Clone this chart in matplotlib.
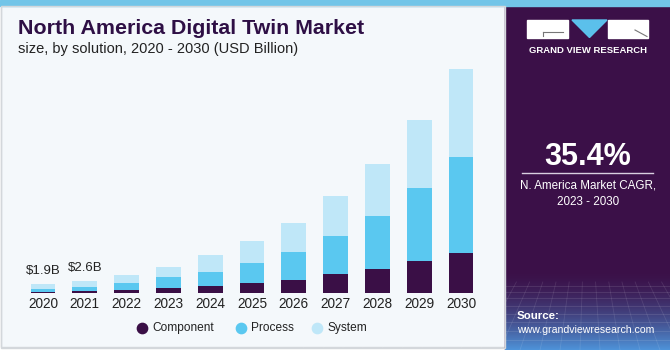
import numpy as np
import matplotlib.pyplot as plt
from matplotlib.patches import Rectangle, Polygon

# Data (USD Billion)
years = ['2020', '2021', '2022', '2023', '2024', '2025', '2026', '2027', '2028', '2029', '2030']
component = [0.35, 0.4, 0.65, 1.1, 1.55, 2.3, 2.9, 4.1, 5.2, 7.0, 8.7]
process = [0.65, 1.05, 1.6, 2.3, 3.1, 4.3, 6.0, 8.3, 11.5, 15.5, 20.6]
system = [0.9, 1.15, 1.65, 2.35, 3.5, 4.6, 6.25, 8.4, 11.1, 14.8, 18.8]
bar_labels = ['$1.9B', '$2.6B']
series_names = ['Component', 'Process', 'System']
colors = ['#3A0F46', '#5AC8F0', '#BFE7F8']

plt.rcParams['font.family'] = ['Liberation Sans', 'DejaVu Sans']

fig = plt.figure(figsize=(6.7, 3.5), dpi=100)

# background / decoration axes in pixel coordinates
bg = fig.add_axes([0, 0, 1, 1])
bg.set_xlim(0, 670)
bg.set_ylim(350, 0)
bg.axis('off')
bg.add_patch(Rectangle((0, 0), 670, 350, color='white'))
bg.add_patch(Rectangle((1, 5), 504, 342, facecolor='#F4F8FB', edgecolor='#D3D7DB', lw=1))
bg.add_patch(Rectangle((505, 5), 165, 345, color='#3B1048'))

# bottom glow of right panel
h = 80
t = np.linspace(0, 1, h) ** 1.6
c1 = np.array([0x3B, 0x10, 0x48]) / 255
c2 = np.array([0x4E, 0x92, 0xD8]) / 255
grad = (c1[None, :] * (1 - t[:, None]) + c2[None, :] * t[:, None])
grad = np.repeat(grad[:, None, :], 10, axis=1)
bg.imshow(grad, extent=(505, 670, 350, 270), aspect='auto', zorder=1)
for k in range(1, 10):
    yy = 282 + 68 * (k / 9) ** 1.3
    bg.plot([505, 670], [yy, yy], color='white', alpha=0.12, lw=0.6, zorder=2)
# perspective lines, only the lower part
vx, vy = 587, 150
for xb in np.linspace(300, 880, 30):
    y0, y1 = 282, 350
    xa = vx + (xb - vx) * (y0 - vy) / (y1 - vy)
    bg.plot([xa, xb], [y0, y1], color='white', alpha=0.10, lw=0.6, zorder=2)
bg.add_patch(Rectangle((0, 0), 670, 5.5, color='#72C5E8', zorder=3))
bg.add_patch(Rectangle((0.5, 5.5), 504, 342, facecolor='none', edgecolor='#D3D7DB', lw=1, zorder=3))

# logo
bg.add_patch(Rectangle((527, 20), 41, 17.5, color='white', zorder=3))
bg.add_patch(Rectangle((608, 20), 40, 17.5, color='white', zorder=3))
bg.add_patch(Polygon([(572, 20), (607, 20), (589.5, 37.5)], color='#5BC0EB', zorder=3))
bg.plot([543, 563], [31.5, 31.5], color='#777777', lw=0.8, zorder=4)
bg.plot([543, 543], [31.5, 36], color='#777777', lw=0.8, zorder=4)
bg.plot([635, 647], [30, 36.5], color='#777777', lw=0.8, zorder=4)
bg.text(588, 50.5, 'GRAND VIEW RESEARCH', color='white', fontsize=6.8, fontweight='bold',
        ha='center', va='center', zorder=4)

# right panel text
bg.text(588, 157, '35.4%', color='white', fontsize=22, fontweight='bold',
        ha='center', va='center', zorder=4)
bg.plot([522, 653], [173.3, 173.3], color='#D9CFE0', lw=1, zorder=4)
bg.text(588, 186, 'N. America Market CAGR,', color='white', fontsize=8.4,
        ha='center', va='center', zorder=4)
bg.text(588, 202, '2023 - 2030', color='white', fontsize=8.4,
        ha='center', va='center', zorder=4)
bg.text(517, 316, 'Source:', color='white', fontsize=8.2, fontweight='bold',
        ha='left', va='center', zorder=4)
bg.text(517, 330, 'www.grandviewresearch.com', color='white', fontsize=7.6,
        ha='left', va='center', zorder=4)

# title
bg.text(18, 28, 'North America Digital Twin Market', color='#2E0F45', fontsize=15.4,
        fontweight='bold', ha='left', va='center', zorder=4)
bg.text(18, 49, 'size, by solution, 2020 - 2030 (USD Billion)', color='#222222',
        fontsize=10.5, ha='left', va='center', zorder=4)

# bar chart
ax = fig.add_axes([22.1 / 670, (350 - 293.3) / 350, 459.8 / 670, 232.9 / 350])
ax.set_facecolor('none')
x = np.arange(len(years))
bottom = np.zeros(len(years))
for vals, name, col in zip([component, process, system], series_names, colors):
    ax.bar(x, vals, width=0.59, bottom=bottom, color=col, label=name)
    bottom = bottom + np.array(vals)

for i, lab in enumerate(bar_labels):
    ax.annotate(lab.replace('$', r'\$'), (x[i], bottom[i]), xytext=(0, 9.5),
                textcoords='offset points', ha='center', va='center',
                fontsize=9.5, color='#222222')

ax.set_xlim(-0.5, len(years) - 0.5)
ax.set_ylim(0, 50)
ax.set_xticks(x)
ax.set_xticklabels(years, fontsize=9.8, color='#222222')
ax.tick_params(axis='x', length=0, pad=2.5)
ax.set_yticks([])
for s in ax.spines.values():
    s.set_visible(False)

# legend
leg_x = [141.7, 240.7, 316.7]
for lx, name, col in zip(leg_x, series_names, colors):
    bg.scatter([lx], [328.3], s=55, color=col, zorder=4)
    bg.text(lx + 10.5, 328.3, name, fontsize=8.6, color='#222222',
            ha='left', va='center', zorder=4)

fig.savefig('out.png', dpi=100)
